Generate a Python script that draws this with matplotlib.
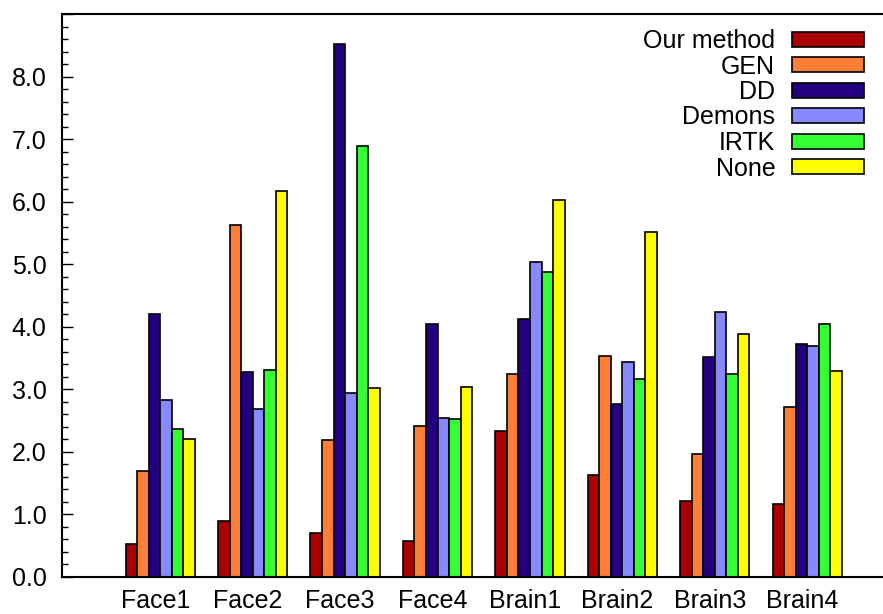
import numpy as np
import matplotlib
matplotlib.use('Agg')
import matplotlib.pyplot as plt
from matplotlib.ticker import MultipleLocator, FuncFormatter
import matplotlib.transforms as mtransforms

plt.rcParams['font.family'] = ['Liberation Sans', 'DejaVu Sans']

# datasets and methods
datasets = ['Face1', 'Face2', 'Face3', 'Face4', 'Brain1', 'Brain2', 'Brain3', 'Brain4']
methods = ['Our method', 'GEN', 'DD', 'Demons', 'IRTK', 'None']
colors = ['#aa0000', '#ff7f36', '#22007f', '#8888ff', '#33ff33', '#ffff00']

# error per method, one value per dataset
our_method = [0.53, 0.89, 0.70, 0.57, 2.33, 1.63, 1.21, 1.17]
gen = [1.70, 5.63, 2.19, 2.42, 3.24, 3.54, 1.96, 2.72]
dd = [4.20, 3.27, 8.52, 4.05, 4.13, 2.76, 3.51, 3.73]
demons = [2.83, 2.69, 2.94, 2.54, 5.03, 3.43, 4.24, 3.70]
irtk = [2.36, 3.31, 6.89, 2.53, 4.88, 3.17, 3.25, 4.05]
none = [2.20, 6.17, 3.02, 3.03, 6.03, 5.52, 3.88, 3.30]

series = [our_method, gen, dd, demons, irtk, none]

fig = plt.figure(figsize=(8.83, 6.14), dpi=100)
ax = fig.add_axes([62/883., 1-577/614., 1-62/883., (577-14)/614.])

x = np.arange(len(datasets))
w = 0.125
for i, (vals, lab, c) in enumerate(zip(series, methods, colors)):
    ax.bar(x + (i-2.5)*w, vals, width=w, color=c, edgecolor='k',
           linewidth=1.2, label=lab)

ax.set_xlim(-1.064, 7.82)
ax.set_ylim(0, 9)

ax.yaxis.set_major_locator(MultipleLocator(1.0))
ax.yaxis.set_minor_locator(MultipleLocator(0.2))
# no label on the top tick
ax.yaxis.set_major_formatter(FuncFormatter(lambda v, p: '' if v > 8.5 else '%.1f' % v))
ax.tick_params(axis='y', which='major', direction='in', length=8, width=1,
               labelsize=18, pad=11)
ax.tick_params(axis='y', which='minor', direction='in', length=4.3, width=1)

ax.set_xticks(x)
ax.set_xticklabels(datasets)
ax.tick_params(axis='x', length=0, labelsize=18, pad=9)
shift = mtransforms.ScaledTranslation(-5/100., 0, fig.dpi_scale_trans)
for t in ax.get_xticklabels():
    t.set_transform(t.get_transform() + shift)

for s in ['left', 'top', 'bottom']:
    ax.spines[s].set_linewidth(1.5)
ax.spines['right'].set_visible(False)

leg = ax.legend(loc='upper right', bbox_to_anchor=(1 - 19/821., 1 - 15/563.),
                frameon=False, markerfirst=False, fontsize=18,
                handlelength=2.9, handleheight=0.55, handletextpad=0.65,
                labelspacing=0.06, borderpad=0, borderaxespad=0)

fig.savefig('out.png', dpi=100)
